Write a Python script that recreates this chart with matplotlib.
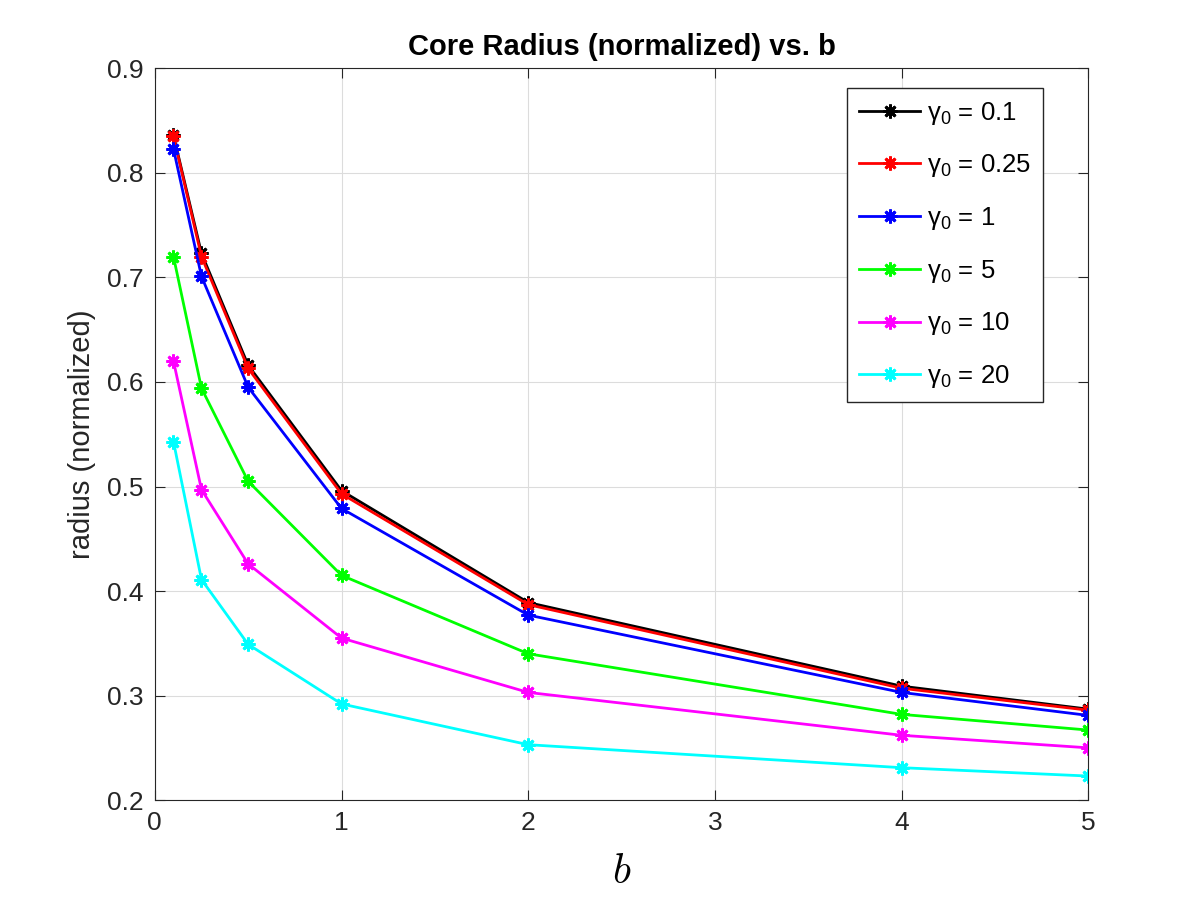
import matplotlib
matplotlib.use('Agg')
import matplotlib.pyplot as plt

# valeurs
b = [0.1, 0.25, 0.5, 1, 2, 4, 5]
r_01 = [0.836, 0.723, 0.616, 0.496, 0.389, 0.309, 0.287]
r_025 = [0.835, 0.720, 0.613, 0.493, 0.387, 0.307, 0.286]
r_1 = [0.823, 0.701, 0.595, 0.479, 0.377, 0.303, 0.281]
r_5 = [0.720, 0.594, 0.505, 0.415, 0.340, 0.282, 0.267]
r_10 = [0.620, 0.497, 0.426, 0.355, 0.303, 0.262, 0.250]
r_20 = [0.543, 0.411, 0.349, 0.292, 0.253, 0.231, 0.223]

series = [r_01, r_025, r_1, r_5, r_10, r_20]
labels = ['0.1', '0.25', '1', '5', '10', '20']
colors = ['k', 'r', 'b', '#00ff00', '#ff00ff', '#00ffff']

plt.rcParams['font.family'] = ['Liberation Sans', 'DejaVu Sans']
plt.rcParams['mathtext.fontset'] = 'cm'

fig = plt.figure(figsize=(12, 9), dpi=100)
ax = fig.add_axes([0.129, 0.111, 0.778, 0.813])

for y, lab, c in zip(series, labels, colors):
    ax.plot(b, y, '-', marker=(8, 2, 0), color=c, lw=2, ms=10, mew=2,
            label=r'$\mathregular{γ_0}$ = ' + lab)

ax.set_xlim(0, 5)
ax.set_ylim(0.2, 0.9)
ax.set_xticks([0, 1, 2, 3, 4, 5])
ax.set_yticks([0.2, 0.3, 0.4, 0.5, 0.6, 0.7, 0.8, 0.9])
ax.set_yticklabels(['0.2', '0.3', '0.4', '0.5', '0.6', '0.7', '0.8', '0.9'])
ax.tick_params(direction='in', top=True, right=True, labelsize=19,
               length=7, pad=8, colors='#262626')
ax.grid(True, color='#dcdcdc', lw=0.8)
for s in ax.spines.values():
    s.set_color('#262626')

ax.set_title('Core Radius (normalized) vs. b', fontsize=21, fontweight='bold',
             pad=10)
ax.set_xlabel(r'$b$', fontsize=30, labelpad=12)
ax.set_ylabel('radius (normalized)', fontsize=21, color='#262626', labelpad=8)

leg = ax.legend(loc='upper right', bbox_to_anchor=(0.951, 0.973),
                borderaxespad=0, fontsize=18.5, fancybox=False,
                edgecolor='#262626', framealpha=1, handlelength=2.4,
                handletextpad=0.25, labelspacing=1.0, borderpad=0.45)
leg.get_frame().set_linewidth(1.0)

fig.savefig('out.png', dpi=100)
